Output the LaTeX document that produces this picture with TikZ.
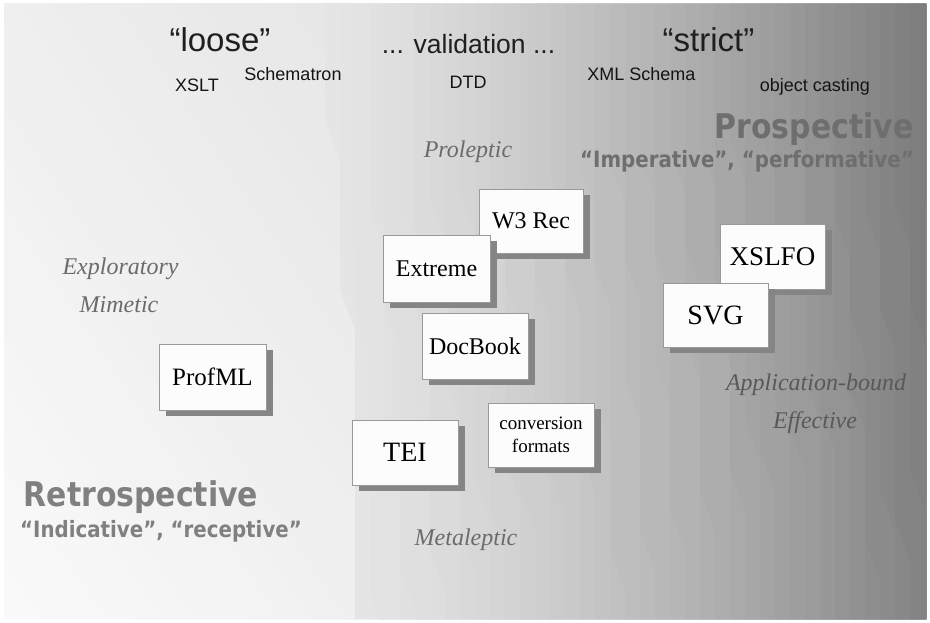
\documentclass[tikz,border=0pt]{standalone}
\usepackage{fontspec}
\setmainfont{Liberation Serif}
\newfontfamily\arialf{Liberation Sans}
\newfontfamily\verdb[FakeStretch=0.88]{DejaVu Sans}
\usetikzlibrary{shadows}
\tikzset{
  card/.style={draw=black!40, line width=0.7pt, fill=black!1, minimum width=106pt,
    minimum height=65pt, inner sep=0pt, align=center,
    font=\fontsize{24}{26}\selectfont,
    drop shadow={shadow xshift=7pt, shadow yshift=-6pt, opacity=1, fill=black!48}},
  toplbl/.style={anchor=base, inner sep=0pt, text=black!92, font=\arialf\fontsize{18}{20}\selectfont},
  biglbl/.style={anchor=base, inner sep=0pt, text=black!88, font=\arialf\fontsize{33}{36}\selectfont},
  itlbl/.style={anchor=base, inner sep=0pt, text=black!58, font=\itshape\fontsize{24}{26}\selectfont},
  verdbig/.style={anchor=base, inner sep=0pt, font=\verdb\bfseries\fontsize{34}{36}\selectfont},
  verdsmall/.style={anchor=base, inner sep=0pt, font=\verdb\bfseries\fontsize{22.5}{24}\selectfont}
}
\begin{document}
\begin{tikzpicture}[x=1pt,y=-1pt]
\useasboundingbox (0,0) rectangle (930,623);
\fill[white] (0,0) rectangle (930,623);
% background bands
\begin{scope}
\clip (4,4) rectangle (926,619);
\foreach \k in {0,...,26} {
  \pgfmathsetmacro\s{-430+30*\k}
  \pgfmathsetmacro\pc{2+8*\k/26}
  \fill[black!\pc] ({\s+2.7},4) -- ({\s+412.7},619) -- (926,619) -- (926,4) -- cycle;
}
\foreach \i in {0,...,40} {
  \pgfmathsetmacro\xx{325+15*\i}
  \pgfmathsetmacro\ya{120+mod(\i*97,200)}
  \pgfmathsetmacro\yb{\ya+170+mod(\i*53,120)}
  \pgfmathsetmacro\pc{10+42*(\i/40)^1.25}
  \fill[black!\pc] ({\xx},4) -- ({\xx},{\ya}) -- ({\xx+15},{\ya+40})
     -- ({\xx+15},{\yb}) -- ({\xx+30},{\yb+40}) -- ({\xx+30},619)
     -- (926,619) -- (926,4) -- cycle;
}
\end{scope}
% top labels
\node[biglbl] (loose) at (220,52) {“loose”};
\node[biglbl, font=\arialf\fontsize{26.5}{30}\selectfont] (valid) at (468.5,54) {... validation ...};
\node[biglbl] (strict) at (708.5,52) {“strict”};
\node[toplbl] (xslt) at (197,92) {XSLT};
\node[toplbl] (schematron) at (293,81) {Schematron};
\node[toplbl] (dtd) at (468,89) {DTD};
\node[toplbl] (xmlschema) at (641.5,81) {XML Schema};
\node[toplbl] (objcast) at (815,92) {object casting};
% big gray labels
\node[verdbig, text=black!57] (prosp) at (814,139) {Prospective};
\node[verdsmall, text=black!57] (imper) at (747,168) {“Imperative”, “performative”};
\node[verdbig, text=black!50] (retro) at (141,506) {Retrospective};
\node[verdsmall, text=black!50] (indic) at (161,537) {“Indicative”, “receptive”};
% italic labels
\node[itlbl] (prolep) at (468,158) {Proleptic};
\node[itlbl] (explor) at (120.5,274) {Exploratory};
\node[itlbl] (mimet) at (119,312) {Mimetic};
\node[itlbl, text=black!65] (appl) at (816,390) {Application-bound};
\node[itlbl, text=black!65] (effect) at (815,428) {Effective};
\node[itlbl] (metalep) at (466,545) {Metaleptic};
% cards
\node[card, minimum width=104pt, minimum height=64pt] (w3rec) at (531,221) {W3 Rec};
\node[card, minimum width=107pt, minimum height=67pt] (extreme) at (436.5,268.5) {Extreme};
\node[card, minimum width=105pt, font=\fontsize{27}{29}\selectfont] (xslfo) at (772.5,256.5) {XSLFO};
\node[card, minimum width=105pt, minimum height=64pt, font=\fontsize{28}{30}\selectfont] (svg) at (715.5,315) {SVG};
\node[card, minimum width=106pt, minimum height=66pt] (docbook) at (475,346) {DocBook};
\node[card, minimum width=107pt, minimum height=66pt, font=\fontsize{25}{27}\selectfont] (profml) at (212.5,377) {ProfML};
\node[card, minimum width=106pt, minimum height=65pt, font=\fontsize{28}{30}\selectfont] (tei) at (405,452.5) {TEI};
\node[card, minimum width=106pt, minimum height=64pt, font=\fontsize{19}{23}\selectfont] (conv) at (541,435) {conversion\\formats};
\end{tikzpicture}
\end{document}
